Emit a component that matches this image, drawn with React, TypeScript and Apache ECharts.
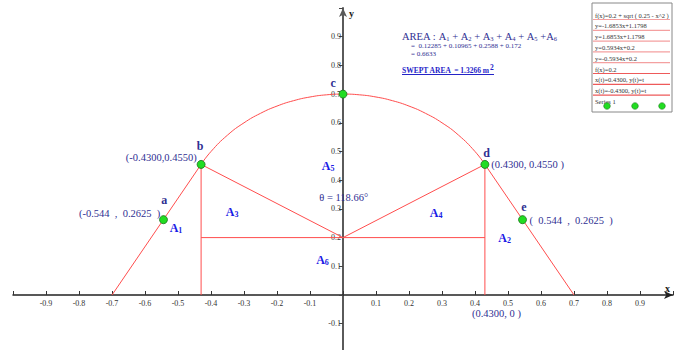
import React, { useEffect, useRef } from "react";
import * as echarts from "echarts";

// ---- data ----
const LEFT_SLOPE_X = [-0.7, -0.43];
const LEFT_SLOPE_Y = [0, 0.455];
const RIGHT_SLOPE_X = [0.43, 0.7];
const RIGHT_SLOPE_Y = [0.455, 0];
const ARC_X = [-0.43, -0.4, -0.35, -0.3, -0.25, -0.2, -0.15, -0.1, -0.05, 0, 0.05, 0.1, 0.15, 0.2, 0.25, 0.3, 0.35, 0.4, 0.43];
const ARC_Y = [0.4551, 0.5, 0.5571, 0.6, 0.633, 0.6583, 0.677, 0.6899, 0.6975, 0.7, 0.6975, 0.6899, 0.677, 0.6583, 0.633, 0.6, 0.5571, 0.5, 0.4551];
const CHORD_R_X = [0, 0.43];
const CHORD_R_Y = [0.2, 0.455];
const CHORD_L_X = [-0.43, 0];
const CHORD_L_Y = [0.455, 0.2];
const BASE_X = [-0.43, 0.43];
const BASE_Y = [0.2, 0.2];
const VERT_R_X = [0.43, 0.43];
const VERT_R_Y = [0, 0.455];
const VERT_L_X = [-0.43, -0.43];
const VERT_L_Y = [0, 0.455];
const POINT_NAMES = ["a", "b", "c", "d", "e"];
const POINT_X = [-0.544, -0.43, 0, 0.43, 0.544];
const POINT_Y = [0.2625, 0.455, 0.7, 0.455, 0.2625];
const COORD_LABELS = ["(-0.544  ,  0.2625  )", "(-0.4300,0.4550)", "", "(0.4300, 0.4550 )", "(  0.544  ,  0.2625  )"];
const AREA_TERMS = ["0.12285", "0.10965", "0.2588", "0.172"];
const AREA_TOTAL = "0.6633";
const SWEPT_AREA = "1.3266";
const THETA = "118.66";
const LEGEND_ITEMS = [
  "f(x)=0.2 + sqrt ( 0.25 - x^2 )",
  "y=-1.6853x+1.1798",
  "y=1.6853x+1.1798",
  "y=0.5934x+0.2",
  "y=-0.5934x+0.2",
  "f(x)=0.2",
  "x(t)=0.4300, y(t)=t",
  "x(t)=-0.4300, y(t)=t",
];
const LEGEND_LAST = "Series 1";

const SERIF = "Liberation Serif";
const NAVY = "#2f2f92";
const BLUE = "#1a1ae6";
const RED = "#ff4d4d";

const zip = (xs: number[], ys: number[]) => xs.map((x, i) => [x, ys[i]]);

function lineSeries(xs: number[], ys: number[], smooth = false) {
  return {
    type: "line",
    data: zip(xs, ys),
    showSymbol: false,
    smooth,
    silent: true,
    lineStyle: { color: RED, width: 1 },
    z: 2,
  };
}

const subRich = {
  A: { fontFamily: SERIF, fontSize: 12, fontWeight: "bold", color: BLUE },
  s: { fontFamily: SERIF, fontSize: 8, fontWeight: "bold", color: BLUE, padding: [5, 0, 0, 0] },
};

// grid geometry (pixels per unit: x 330, y 287)
const GRID_LEFT = 13, GRID_WIDTH = 660, GRID_TOP = 8, GRID_HEIGHT = 344.4;
const X_MIN = -1, X_MAX = 1, Y_MIN = -0.2, Y_MAX = 1;

export default function App() {
  const ref = useRef<HTMLDivElement>(null);
  useEffect(() => {
    if (!ref.current) return;
    const chart = echarts.init(ref.current, null, { renderer: "svg" });

    const fmtX = (v: number) => {
      if (Math.abs(v) < 1e-9 || Math.abs(v) > 0.95) return "";
      return v.toFixed(1);
    };
    const fmtY = (v: number) => {
      if (Math.abs(v) < 1e-9 || v > 0.95 || v < -0.15) return "";
      return v.toFixed(1);
    };
    // offsets that bring each axis onto the other's zero
    const yAxisOffset = -((0 - X_MIN) / (X_MAX - X_MIN)) * GRID_WIDTH;
    const xAxisOffset = -((0 - Y_MIN) / (Y_MAX - Y_MIN)) * GRID_HEIGHT;

    const pointLetter = (i: number, dx: number, dy: number) => ({
      value: [POINT_X[i] + dx, POINT_Y[i] + dy],
      label: {
        show: true,
        position: "inside",
        formatter: POINT_NAMES[i],
        fontFamily: SERIF,
        fontSize: 12,
        fontWeight: "bold",
        color: NAVY,
      },
    });
    const coordLabel = (text: string, x: number, y: number, pos: string) => ({
      value: [x, y],
      label: {
        show: true,
        position: pos,
        distance: 0,
        formatter: text,
        fontFamily: SERIF,
        fontSize: 10.5,
        color: NAVY,
      },
    });
    const aLabel = (n: number, x: number, y: number) => ({
      value: [x, y],
      label: {
        show: true,
        position: "inside",
        formatter: `{A|A}{s|${n}}`,
        rich: subRich,
      },
    });

    const annotations = [
      pointLetter(0, 0.002, 0.07),
      pointLetter(1, -0.003, 0.065),
      pointLetter(2, -0.03, 0.04),
      pointLetter(3, 0.005, 0.04),
      pointLetter(4, 0.004, 0.045),
      coordLabel(COORD_LABELS[0], POINT_X[0] - 0.008, POINT_Y[0] + 0.02, "left"),
      coordLabel(COORD_LABELS[1], POINT_X[1] - 0.012, POINT_Y[1] + 0.024, "left"),
      coordLabel(COORD_LABELS[3], POINT_X[3] + 0.018, POINT_Y[3] - 0.002, "right"),
      coordLabel(COORD_LABELS[4], POINT_X[4] + 0.02, POINT_Y[4] - 0.004, "right"),
      coordLabel("(0.4300, 0 )", 0.465, -0.063, "inside"),
      coordLabel(`θ = ${THETA}°`, 0.002, 0.338, "inside"),
      aLabel(1, -0.506, 0.233),
      aLabel(2, 0.49, 0.2),
      aLabel(3, -0.336, 0.29),
      aLabel(4, 0.282, 0.287),
      aLabel(5, -0.045, 0.45),
      aLabel(6, -0.062, 0.122),
    ];

    // legend box graphics
    const lgX = 592, lgY = 3, lgW = 80, lgH = 109, rowH = 10.8;
    const legendGraphics: any[] = [
      { type: "rect", shape: { x: lgX, y: lgY, width: lgW, height: lgH }, style: { fill: "#fff", stroke: "#888", lineWidth: 1 }, z: 10 },
    ];
    LEGEND_ITEMS.forEach((t, i) => {
      const cy = lgY + 12 + i * rowH;
      legendGraphics.push({
        type: "text",
        x: lgX + 3,
        y: cy,
        style: { text: t, fontFamily: SERIF, fontSize: 6.5, fill: "#333", verticalAlign: "middle" },
        z: 11,
      });
      legendGraphics.push({
        type: "line",
        shape: { x1: lgX + 1, y1: cy + 4.5, x2: lgX + lgW - 2, y2: cy + 4.5 },
        style: { stroke: i < 5 ? "#f4a0a0" : "#ee5a5a", lineWidth: 1.2 },
        z: 11,
      });
    });
    legendGraphics.push({
      type: "text",
      x: lgX + 3,
      y: lgY + 12 + 8 * rowH,
      style: { text: LEGEND_LAST, fontFamily: SERIF, fontSize: 6.5, fill: "#333", verticalAlign: "middle" },
      z: 11,
    });
    [607, 635, 662].forEach((cx) => {
      legendGraphics.push({
        type: "circle",
        shape: { cx, cy: 106, r: 3.3 },
        style: { fill: "#22dd22", stroke: "#1a7a1a", lineWidth: 0.6 },
        z: 12,
      });
    });

    const areaRich = {
      b: { fontFamily: SERIF, fontSize: 10.5, fill: NAVY },
      s: { fontFamily: SERIF, fontSize: 6.5, fill: NAVY, padding: [4, 0, 0, 0] },
    };
    const areaLine = "{b|AREA : }" + [1, 2, 3, 4, 5].map((n) => `{b|A}{s|${n}}`).join("{b| + }") + "{b| +A}{s|6}";

    const textGraphics: any[] = [
      { type: "text", x: 402, y: 36, style: { text: areaLine, rich: areaRich, verticalAlign: "middle" } },
      {
        type: "text",
        x: 411,
        y: 46,
        style: { text: "=  " + AREA_TERMS.join(" + "), fontFamily: SERIF, fontSize: 7, fill: NAVY, verticalAlign: "middle" },
      },
      {
        type: "text",
        x: 411,
        y: 54,
        style: { text: "= " + AREA_TOTAL, fontFamily: SERIF, fontSize: 7, fill: NAVY, verticalAlign: "middle" },
      },
      {
        type: "text",
        x: 402,
        y: 70,
        style: {
          text: `{t|SWEPT AREA  = ${SWEPT_AREA} m}{p|2}`,
          rich: {
            t: { fontFamily: SERIF, fontSize: 7.5, fontWeight: "bold", fill: "#2424c8" },
            p: { fontFamily: SERIF, fontSize: 7.5, fontWeight: "bold", fill: "#2424c8", verticalAlign: "top", padding: [0, 0, 6, 0] },
          },
          verticalAlign: "middle",
        },
      },
      { type: "line", shape: { x1: 402, y1: 74.5, x2: 494, y2: 74.5 }, style: { stroke: "#2424c8", lineWidth: 1 } },
      { type: "text", x: 665, y: 283, style: { text: "x", fontFamily: SERIF, fontSize: 10, fontWeight: "bold", fill: "#222" } },
      { type: "text", x: 349, y: 8, style: { text: "y", fontFamily: SERIF, fontSize: 10, fontWeight: "bold", fill: "#222" } },
    ];

    chart.setOption({
      animation: false,
      backgroundColor: "#fff",
      grid: { left: GRID_LEFT, width: GRID_WIDTH, top: GRID_TOP, height: GRID_HEIGHT, outerBoundsMode: "none", containLabel: false },
      xAxis: {
        type: "value",
        min: X_MIN,
        max: X_MAX,
        interval: 0.1,
        position: "bottom",
        offset: xAxisOffset,
        splitLine: { show: false },
        axisLine: { onZero: false, lineStyle: { color: "#222", width: 1.5 }, symbol: ["none", "arrow"], symbolSize: [6, 9] },
        axisTick: { show: true, inside: true, length: 4, lineStyle: { color: "#333" } },
        axisLabel: { formatter: fmtX, fontFamily: SERIF, fontSize: 8, color: "#333", margin: 4 },
      },
      yAxis: {
        type: "value",
        min: Y_MIN,
        max: Y_MAX,
        interval: 0.1,
        position: "left",
        offset: yAxisOffset,
        splitLine: { show: false },
        axisLine: { onZero: false, lineStyle: { color: "#5a5a5a", width: 2 }, symbol: ["none", "arrow"], symbolSize: [6, 9] },
        axisTick: { show: true, length: 4, lineStyle: { color: "#444" } },
        axisLabel: { formatter: fmtY, fontFamily: SERIF, fontSize: 8, color: "#333", margin: 2 },
      },
      series: [
        lineSeries(LEFT_SLOPE_X, LEFT_SLOPE_Y),
        lineSeries(RIGHT_SLOPE_X, RIGHT_SLOPE_Y),
        lineSeries(ARC_X, ARC_Y, true),
        lineSeries(CHORD_R_X, CHORD_R_Y),
        lineSeries(CHORD_L_X, CHORD_L_Y),
        lineSeries(BASE_X, BASE_Y),
        lineSeries(VERT_R_X, VERT_R_Y),
        lineSeries(VERT_L_X, VERT_L_Y),
        {
          type: "scatter",
          data: zip(POINT_X, POINT_Y),
          symbol: "circle",
          symbolSize: 8,
          itemStyle: { color: "#22dd22", borderColor: "#1d6e1d", borderWidth: 0.8, opacity: 1 },
          z: 5,
          silent: true,
        },
        {
          type: "scatter",
          data: annotations,
          symbolSize: 1,
          itemStyle: { color: "rgba(0,0,0,0)", opacity: 1 },
          labelLayout: { hideOverlap: false },
          z: 6,
          silent: true,
        },
      ],
      graphic: [...textGraphics, ...legendGraphics],
    });
    return () => chart.dispose();
  }, []);
  return <div ref={ref} style={{ width: 679, height: 350, position: "absolute", left: 0, top: 0 }} />;
}
